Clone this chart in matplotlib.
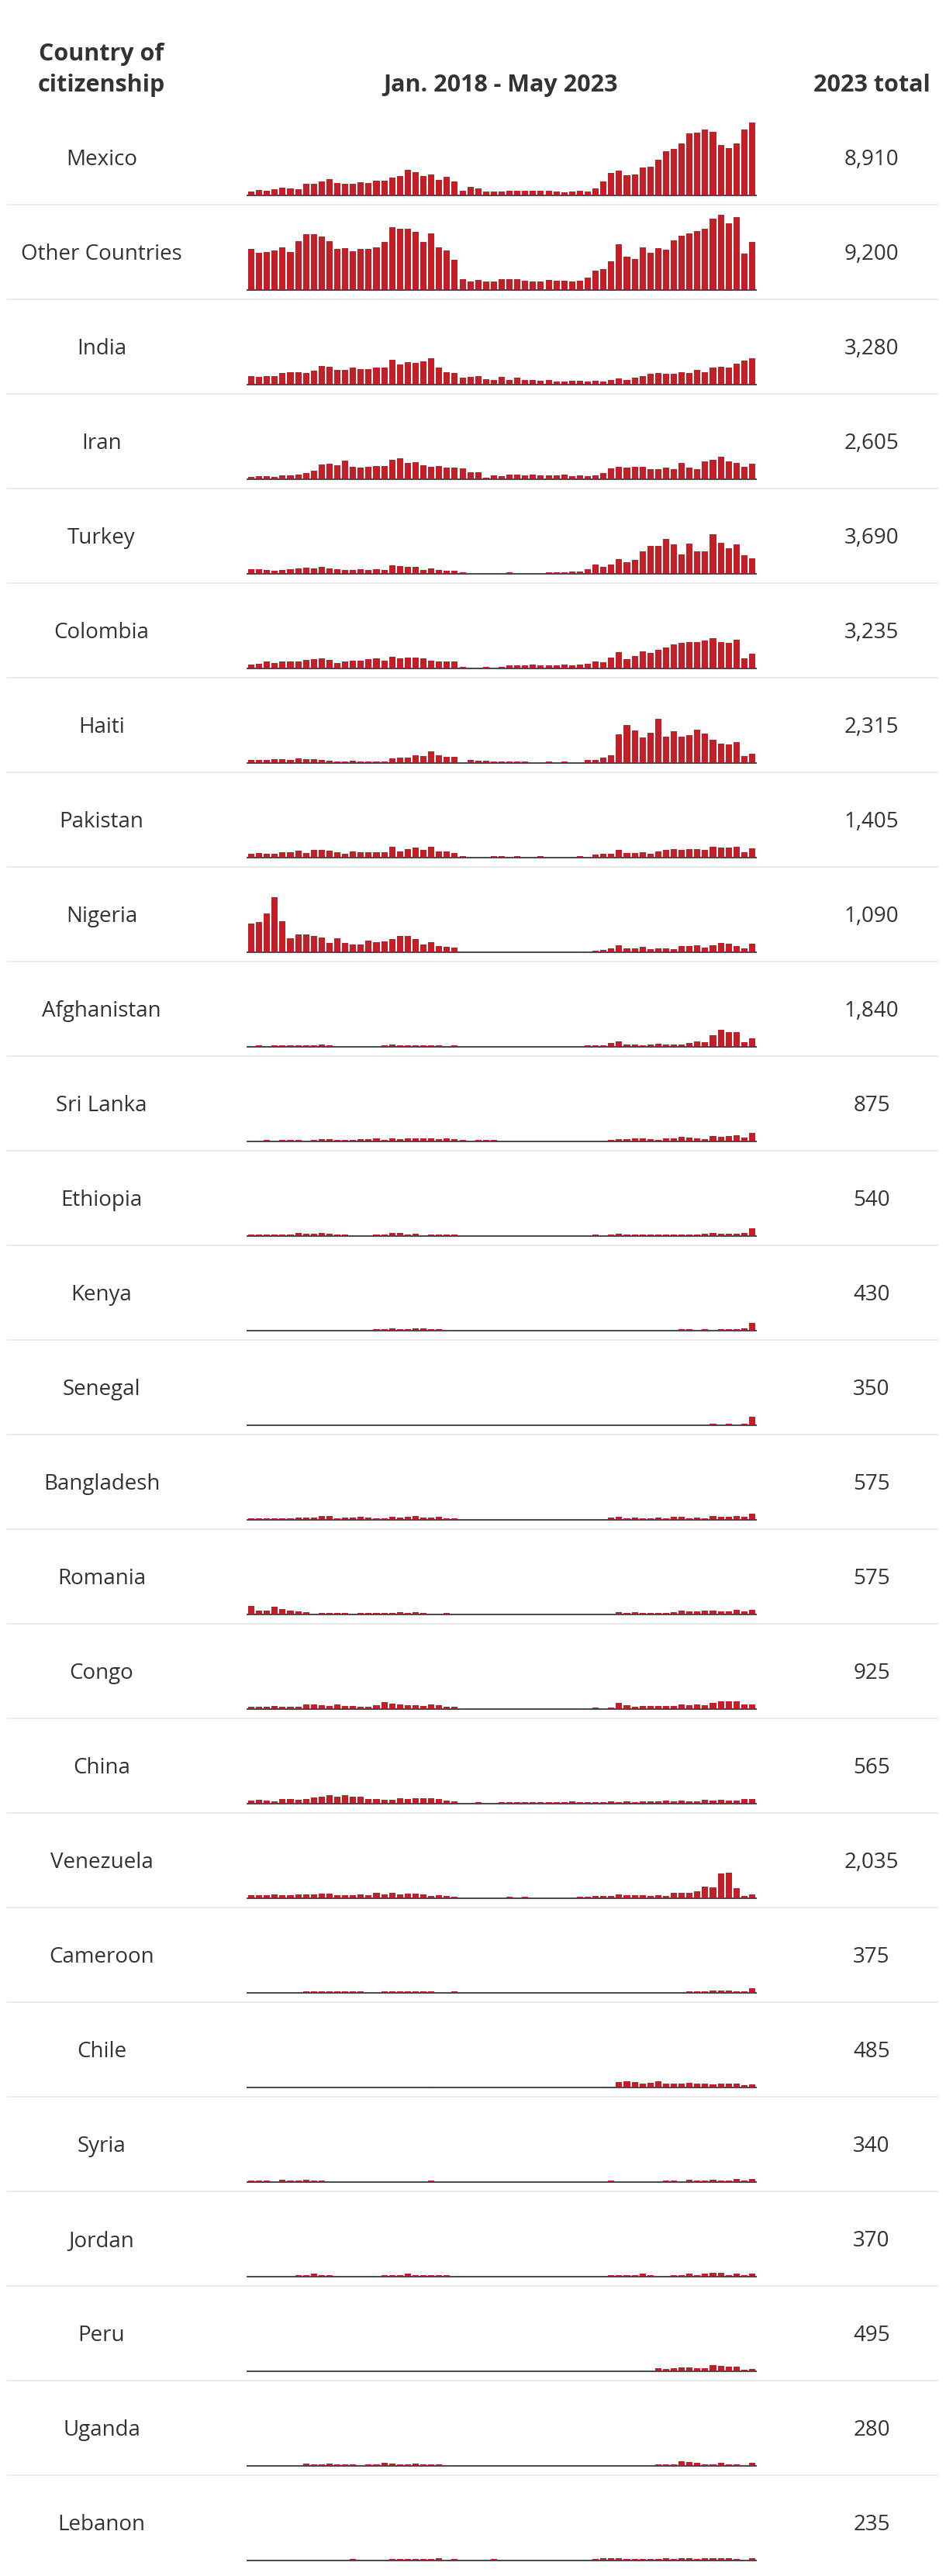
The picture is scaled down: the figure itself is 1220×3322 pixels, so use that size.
import matplotlib
matplotlib.use("Agg")
import matplotlib.pyplot as plt
from matplotlib.lines import Line2D

plt.rcParams['font.family'] = ['Open Sans', 'DejaVu Sans']

# ---- Data: monthly counts, Jan. 2018 - May 2023 (65 months) ----
countries = ["Mexico", "Other Countries", "India", "Iran", "Turkey", "Colombia", "Haiti",
             "Pakistan", "Nigeria", "Afghanistan", "Sri Lanka", "Ethiopia", "Kenya", "Senegal",
             "Bangladesh", "Romania", "Congo", "China", "Venezuela", "Cameroon", "Chile",
             "Syria", "Jordan", "Peru", "Uganda", "Lebanon"]
totals_2023 = ["8,910", "9,200", "3,280", "2,605", "3,690", "3,235", "2,315", "1,405", "1,090",
               "1,840", "875", "540", "430", "350", "575", "575", "925", "565", "2,035", "375",
               "485", "340", "370", "495", "280", "235"]

mexico = [110, 160, 135, 185, 230, 210, 185, 350, 350, 425, 495, 375, 350, 350, 400, 375, 450, 450,
          545, 590, 785, 710, 590, 640, 470, 570, 425, 135, 255, 210, 110, 110, 110, 135, 135, 135,
          135, 135, 135, 110, 90, 110, 135, 110, 210, 425, 690, 760, 615, 640, 855, 880, 1095, 1360,
          1430, 1600, 1910, 1935, 2030, 1960, 1555, 1460, 1605, 2035, 2255]
other_countries = [1256, 1136, 1160, 1208, 1304, 1160, 1496, 1712, 1712, 1640, 1496, 1256, 1280, 1184,
                   1256, 1256, 1304, 1472, 1928, 1880, 1880, 1784, 1472, 1736, 1304, 1208, 920, 320,
                   248, 296, 248, 248, 320, 320, 320, 272, 248, 248, 296, 272, 272, 248, 272, 368, 584,
                   632, 872, 1400, 1016, 944, 1304, 1136, 1280, 1232, 1520, 1664, 1736, 1808, 1880,
                   2192, 2310, 2045, 2240, 1125, 1480]
india = [256, 232, 256, 256, 352, 376, 376, 352, 424, 568, 544, 448, 448, 520, 472, 472, 520, 520, 760,
         616, 688, 664, 712, 808, 520, 376, 352, 208, 232, 256, 160, 136, 232, 136, 208, 136, 136, 112,
         136, 88, 88, 112, 112, 88, 112, 88, 136, 184, 136, 208, 256, 328, 352, 328, 328, 376, 352, 448,
         376, 520, 550, 525, 645, 745, 815]
iran = [56, 80, 80, 56, 104, 104, 128, 176, 248, 440, 464, 416, 560, 368, 344, 368, 392, 392, 584, 632,
        488, 512, 416, 368, 392, 344, 344, 320, 200, 200, 32, 104, 80, 128, 128, 104, 128, 104, 104, 104,
        128, 80, 104, 80, 104, 176, 320, 368, 344, 368, 368, 296, 296, 344, 296, 488, 344, 296, 536, 584,
        700, 550, 500, 380, 475]
turkey = [128, 128, 104, 80, 104, 128, 152, 176, 152, 200, 152, 128, 104, 104, 128, 104, 128, 104, 248,
          224, 200, 200, 104, 152, 104, 80, 80, 32, 0, 0, 0, 0, 0, 32, 0, 0, 0, 0, 32, 32, 32, 56, 56,
          128, 272, 200, 272, 440, 344, 416, 680, 848, 848, 1064, 896, 584, 920, 680, 680, 1208, 945, 795,
          895, 575, 480]
colombia = [104, 128, 200, 152, 200, 200, 200, 248, 272, 296, 248, 152, 200, 224, 224, 272, 296, 224,
            344, 296, 320, 320, 296, 224, 200, 200, 200, 32, 0, 0, 32, 0, 32, 80, 80, 80, 104, 80, 80,
            80, 104, 80, 104, 128, 200, 176, 320, 488, 272, 368, 512, 464, 560, 632, 728, 776, 800, 800,
            848, 920, 820, 795, 870, 305, 445]
haiti = [80, 80, 80, 104, 104, 80, 128, 104, 104, 80, 56, 32, 32, 56, 32, 32, 32, 32, 128, 152, 152, 224,
         200, 344, 224, 176, 176, 0, 80, 56, 56, 32, 32, 32, 32, 32, 0, 0, 32, 0, 32, 0, 0, 80, 80, 152,
         224, 872, 1160, 992, 776, 920, 1352, 800, 968, 800, 848, 1016, 896, 704, 600, 575, 650, 210, 280]
pakistan = [104, 128, 104, 104, 152, 152, 200, 128, 224, 224, 200, 152, 104, 176, 152, 152, 152, 152,
            320, 176, 248, 296, 224, 320, 176, 176, 128, 32, 0, 0, 0, 32, 32, 0, 32, 0, 0, 32, 0, 0, 0,
            0, 32, 0, 80, 104, 104, 224, 128, 128, 152, 104, 176, 224, 248, 224, 248, 248, 224, 320,
            310, 310, 335, 160, 290]
nigeria = [880, 928, 1192, 1696, 952, 424, 544, 544, 496, 448, 280, 424, 280, 232, 232, 352, 304, 328,
           400, 496, 496, 400, 232, 304, 184, 160, 136, 0, 0, 0, 0, 0, 0, 0, 0, 0, 0, 0, 0, 0, 0, 0, 0,
           0, 40, 64, 112, 208, 112, 112, 160, 88, 112, 112, 88, 184, 184, 208, 136, 208, 270, 245,
           195, 120, 260]
afghanistan = [0, 40, 0, 40, 40, 40, 40, 40, 40, 64, 40, 0, 0, 0, 0, 0, 0, 40, 64, 40, 40, 40, 40, 40,
               40, 0, 40, 0, 0, 0, 0, 0, 0, 0, 0, 0, 0, 0, 0, 0, 0, 0, 0, 40, 40, 40, 112, 160, 64, 64,
               40, 64, 88, 64, 64, 64, 112, 160, 136, 352, 530, 455, 455, 140, 260]
sri_lanka = [0, 0, 40, 0, 40, 40, 40, 0, 40, 64, 64, 40, 40, 40, 64, 64, 88, 40, 88, 64, 88, 88, 88, 88,
             64, 88, 64, 40, 0, 40, 40, 40, 0, 0, 0, 0, 0, 0, 0, 0, 0, 0, 0, 0, 0, 0, 40, 64, 64, 88,
             88, 64, 40, 88, 88, 136, 112, 88, 64, 160, 145, 170, 195, 120, 245]
ethiopia = [40, 40, 40, 40, 40, 40, 88, 64, 64, 88, 64, 40, 40, 0, 0, 0, 40, 40, 88, 88, 40, 64, 0, 40,
            40, 40, 40, 0, 0, 0, 0, 0, 0, 0, 0, 0, 0, 0, 0, 0, 0, 0, 0, 0, 40, 0, 40, 64, 40, 40, 40,
            40, 40, 40, 40, 40, 40, 40, 64, 88, 70, 70, 70, 95, 235]
kenya = [0, 0, 0, 0, 0, 0, 0, 0, 0, 0, 0, 0, 0, 0, 0, 0, 40, 40, 64, 40, 40, 64, 64, 40, 40, 0, 0, 0, 0,
         0, 0, 0, 0, 0, 0, 0, 0, 0, 0, 0, 0, 0, 0, 0, 0, 0, 0, 0, 0, 0, 0, 0, 0, 0, 0, 40, 40, 0, 40,
         0, 45, 45, 45, 70, 225]
senegal = [0, 0, 0, 0, 0, 0, 0, 0, 0, 0, 0, 0, 0, 0, 0, 0, 0, 0, 0, 0, 0, 0, 0, 0, 0, 0, 0, 0, 0, 0, 0,
           0, 0, 0, 0, 0, 0, 0, 0, 0, 0, 0, 0, 0, 0, 0, 0, 0, 0, 0, 0, 0, 0, 0, 0, 0, 0, 0, 0, 40, 0,
           45, 0, 45, 260]
bangladesh = [40, 40, 40, 40, 40, 40, 64, 64, 64, 112, 112, 40, 64, 64, 88, 64, 40, 40, 88, 64, 88, 112,
              64, 64, 88, 40, 40, 0, 0, 0, 0, 0, 0, 0, 0, 0, 0, 0, 0, 0, 0, 0, 0, 0, 0, 0, 64, 88, 40,
              64, 40, 40, 64, 40, 88, 88, 40, 64, 40, 112, 90, 90, 115, 90, 190]
romania = [256, 112, 112, 232, 160, 112, 88, 64, 0, 40, 40, 40, 40, 0, 40, 40, 40, 40, 40, 64, 40, 64,
           40, 0, 0, 40, 0, 0, 0, 0, 0, 0, 0, 0, 0, 0, 0, 0, 0, 0, 0, 0, 0, 0, 0, 0, 0, 64, 40, 64, 40,
           40, 40, 40, 64, 112, 88, 88, 112, 112, 95, 95, 145, 95, 145]
congo = [64, 64, 64, 88, 64, 64, 64, 136, 136, 112, 88, 136, 88, 88, 64, 64, 112, 208, 160, 136, 112,
         112, 88, 136, 112, 64, 64, 0, 0, 0, 0, 0, 0, 0, 0, 0, 0, 0, 0, 0, 0, 0, 0, 0, 40, 0, 40, 184,
         112, 64, 88, 88, 88, 88, 88, 136, 112, 136, 112, 184, 225, 225, 225, 125, 125]
china = [88, 112, 88, 64, 136, 136, 112, 136, 184, 208, 256, 208, 256, 208, 208, 136, 136, 112, 112, 160,
         136, 160, 160, 160, 136, 88, 64, 0, 0, 40, 0, 0, 40, 40, 40, 40, 40, 40, 40, 40, 40, 64, 40,
         40, 40, 40, 64, 40, 64, 40, 64, 64, 64, 88, 64, 88, 64, 64, 112, 88, 120, 95, 95, 125, 130]
venezuela = [88, 88, 88, 112, 88, 88, 112, 112, 112, 136, 136, 88, 88, 88, 112, 88, 160, 112, 160, 112,
             136, 136, 112, 64, 88, 64, 40, 0, 0, 0, 0, 0, 0, 40, 0, 40, 0, 0, 0, 0, 0, 0, 40, 40, 64,
             64, 64, 112, 88, 88, 88, 64, 88, 64, 160, 160, 160, 208, 352, 328, 755, 780, 315, 65, 120]
cameroon = [0, 0, 0, 0, 0, 0, 0, 40, 40, 40, 40, 40, 40, 40, 40, 0, 0, 40, 40, 40, 40, 40, 40, 40, 0, 0,
            40, 0, 0, 0, 0, 0, 0, 0, 0, 0, 0, 0, 0, 0, 0, 0, 0, 0, 0, 0, 0, 0, 0, 0, 0, 0, 0, 0, 0, 0,
            40, 40, 40, 64, 75, 75, 50, 50, 125]
chile = [0, 0, 0, 0, 0, 0, 0, 0, 0, 0, 0, 0, 0, 0, 0, 0, 0, 0, 0, 0, 0, 0, 0, 24, 0, 24, 0, 0, 0, 0, 0,
         0, 0, 0, 0, 0, 0, 0, 0, 0, 0, 0, 0, 0, 0, 24, 24, 152, 176, 152, 104, 128, 176, 104, 104, 104,
         128, 104, 104, 80, 110, 110, 110, 65, 90]
syria = [40, 40, 40, 0, 64, 40, 40, 64, 40, 40, 0, 0, 0, 0, 0, 0, 0, 0, 0, 0, 0, 0, 0, 40, 0, 0, 0, 0, 0,
         0, 0, 0, 0, 0, 0, 0, 0, 0, 0, 0, 0, 0, 0, 0, 0, 0, 40, 0, 0, 0, 0, 0, 0, 40, 40, 0, 64, 40, 40,
         64, 48, 48, 96, 48, 100]
jordan = [0, 0, 0, 0, 0, 0, 48, 48, 80, 48, 48, 0, 0, 0, 0, 0, 0, 48, 48, 48, 80, 48, 48, 48, 48, 48, 0,
          0, 0, 0, 0, 0, 0, 0, 0, 0, 0, 0, 0, 0, 0, 0, 0, 0, 0, 0, 48, 48, 48, 48, 80, 48, 0, 0, 48, 48,
          80, 48, 80, 104, 104, 48, 80, 48, 90]
peru = [0, 0, 0, 0, 0, 0, 0, 0, 0, 0, 0, 0, 0, 0, 0, 0, 0, 0, 0, 0, 0, 0, 0, 0, 0, 0, 0, 0, 0, 0, 0, 0, 0,
        0, 0, 0, 0, 0, 0, 0, 0, 0, 0, 0, 0, 0, 0, 0, 0, 0, 24, 0, 88, 64, 88, 112, 112, 88, 88, 192, 150,
        125, 125, 30, 65]
uganda = [0, 0, 0, 0, 0, 0, 0, 64, 40, 40, 64, 40, 40, 40, 0, 40, 40, 88, 64, 40, 40, 64, 40, 40, 40, 0,
          0, 0, 0, 0, 0, 0, 0, 0, 0, 0, 0, 0, 0, 0, 0, 0, 0, 0, 0, 0, 0, 0, 0, 0, 0, 0, 40, 40, 40, 136,
          112, 88, 40, 40, 100, 50, 50, 0, 80]
lebanon = [0, 0, 0, 0, 0, 0, 0, 0, 0, 0, 0, 0, 0, 40, 0, 0, 0, 0, 40, 40, 40, 40, 40, 40, 64, 0, 40, 0, 0,
           0, 0, 40, 0, 0, 0, 0, 0, 0, 0, 0, 0, 0, 0, 0, 40, 56, 64, 64, 48, 48, 48, 48, 48, 56, 48, 56,
           56, 48, 64, 64, 70, 55, 50, 0, 60]

series = [mexico, other_countries, india, iran, turkey, colombia, haiti, pakistan, nigeria,
          afghanistan, sri_lanka, ethiopia, kenya, senegal, bangladesh, romania, congo, china,
          venezuela, cameroon, chile, syria, jordan, peru, uganda, lebanon]

# ---- Layout (pixels) ----
W, H = 1220, 3322
fig = plt.figure(figsize=(W / 100, H / 100), dpi=100)
fig.patch.set_facecolor('white')

TEXT = '#333333'
BAR = '#C41F26'
AXIS = '#474747'
SEP = '#ebebeb'

def fx(x):
    return x / W

def fy(y):
    return 1 - y / H

HEAD_FS = 22
LAB_FS = 20

# header
fig.text(fx(131), fy(78), "Country of", ha='center', va='baseline', fontsize=HEAD_FS,
         fontweight='bold', color=TEXT)
fig.text(fx(131), fy(118), "citizenship", ha='center', va='baseline', fontsize=HEAD_FS,
         fontweight='bold', color=TEXT)
fig.text(fx(646), fy(118), "Jan. 2018 - May 2023", ha='center', va='baseline', fontsize=HEAD_FS,
         fontweight='bold', color=TEXT)
fig.text(fx(1124), fy(118), "2023 total", ha='center', va='baseline', fontsize=HEAD_FS,
         fontweight='bold', color=TEXT)

X0, X1 = 319, 975
ROW0 = 251.7
PITCH = 122
AX_H = 105
YMAX = 2520

for i, (name, total, vals) in enumerate(zip(countries, totals_2023, series)):
    base = ROW0 + PITCH * i
    ax = fig.add_axes([fx(X0), fy(base), (X1 - X0) / W, AX_H / H])
    ax.bar(range(len(vals)), vals, width=0.8, color=BAR, linewidth=0, zorder=2)
    ax.set_xlim(-0.5, len(vals) - 0.5)
    ax.set_ylim(0, YMAX)
    ax.axhline(0, color=AXIS, lw=1.4, zorder=3, clip_on=False)
    ax.axis('off')

    fig.text(fx(131), fy(base - 38.5), name, ha='center', va='baseline', fontsize=LAB_FS, color=TEXT)
    fig.text(fx(1124), fy(base - 38.5), total, ha='center', va='baseline', fontsize=LAB_FS, color=TEXT)

    if i < len(countries) - 1:
        yy = fy(base + 12.5)
        fig.add_artist(Line2D([fx(10), fx(1210)], [yy, yy], transform=fig.transFigure,
                              color=SEP, lw=1.3))

fig.savefig("out.png", dpi=100, facecolor='white')
